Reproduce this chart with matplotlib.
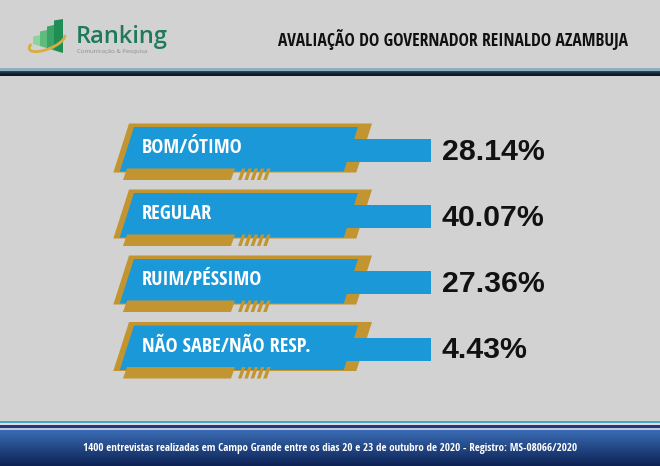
import matplotlib
matplotlib.use("Agg")
import matplotlib.pyplot as plt
from matplotlib.patches import Polygon, Rectangle, Arc
import numpy as np

# data
categories = ["BOM/ÓTIMO", "REGULAR", "RUIM/PÉSSIMO", "NÃO SABE/NÃO RESP."]
values = [28.14, 40.07, 27.36, 4.43]
title = "AVALIAÇÃO DO GOVERNADOR REINALDO AZAMBUJA"
footer = ("1400 entrevistas realizadas em Campo Grande entre os dias 20 e 23 "
          "de outubro de 2020 - Registro: MS-08066/2020")

BG = "#d2d2d2"
BLUE = "#1a98d8"
GOLD = "#c39530"
COND = dict(family=["Open Sans Condensed", "DejaVu Sans"], fontweight="bold")

fig = plt.figure(figsize=(6.6, 4.66), dpi=100)
fig.patch.set_facecolor(BG)
ax = fig.add_axes([0, 0, 1, 1])
ax.set_xlim(0, 660)
ax.set_ylim(466, 0)
ax.axis("off")


def poly(pts, color, z=2):
    ax.add_patch(Polygon(pts, closed=True, facecolor=color, edgecolor="none", zorder=z))


# header separator
ax.add_patch(Rectangle((0, 68.3), 660, 2.8, facecolor="#8eafbf", edgecolor="none"))
for i, col in enumerate(["#2a4656", "#1d3343", "#142636", "#0e1c2a", "#0d1824"]):
    ax.add_patch(Rectangle((0, 71 + i * 1.0), 660, 1.05, facecolor=col, edgecolor="none"))

# logo
bar_x = [33, 40, 47, 54]
bar_w = [7, 7, 7, 9]
bar_top = [35, 30, 25, 19]
greens = ["#8ed39b", "#5dbb7b", "#3aa466", "#1f8d56"]
for bx, bw, bt, g in zip(bar_x, bar_w, bar_top, greens):
    y0 = 44 + (bx - 33) * 0.3
    y1 = 44 + (bx + bw - 33) * 0.3
    poly([(bx, bt + 1.5), (bx + bw, bt), (bx + bw, y1), (bx, y0)], g, 3)
ax.add_patch(Arc((47, 42), 38, 14, angle=-22, theta1=0, theta2=195,
                 color="#d9ad3f", lw=2.0, zorder=4))
ax.text(76, 43, "Ranking", color="#1f7a5c", fontsize=17, family="Open Sans",
        fontweight="semibold", va="baseline", ha="left")
ax.text(77, 51, "Comunicação & Pesquisa", color="#8a8f8c", fontsize=4.3,
        family="Open Sans", va="center", ha="left")

# title
ax.text(278, 40, title, color="#111111", fontsize=12.6, va="center", ha="left", **COND)

# rows
row_c = [150.5, 216.5, 282.5, 349]
sl = 0.32
for lab, val, c in zip(categories, values, row_c):
    # gold back plate
    t, b = c - 27, c + 22
    poly([(129, t), (372, t), (372 - sl * (b - t), b), (129 - sl * (b - t), b)], GOLD, 2)
    # blue plate
    t, b = c - 23.5, c + 21
    poly([(134, t), (358, t), (358 - sl * (b - t), b), (134 - sl * (b - t), b)], BLUE, 3)
    # thin bar
    ax.add_patch(Rectangle((330, c - 11.5), 431 - 330, 23, facecolor=BLUE,
                           edgecolor="none", zorder=3))
    # gold under stripe
    t, b = c + 18, c + 29.5
    poly([(127, t), (235, t), (231, b), (123, b)], GOLD, 4)
    for k in range(5):
        x0 = 238 + k * 6.3
        poly([(x0 + 4, t), (x0 + 7.5, t), (x0 + 3.5, b), (x0, b)], GOLD, 4)
    ax.text(142, c - 2.5, lab, color="white", fontsize=14.6, va="center",
            ha="left", zorder=5, **COND)
    ax.text(442, c + 1.5, "%.2f%%" % val, color="#111111", fontsize=21.8,
            family="Liberation Sans", fontweight="bold", va="center", ha="left")

# footer bands
ax.add_patch(Rectangle((0, 421), 660, 2.4, facecolor="#48a5bf", edgecolor="none"))
ax.add_patch(Rectangle((0, 423.4), 660, 1.8, facecolor="#d9dce6", edgecolor="none"))
ax.add_patch(Rectangle((0, 425.2), 660, 2.3, facecolor="#2b3479", edgecolor="none"))
ax.add_patch(Rectangle((0, 427.5), 660, 2.8, facecolor="#bcc5e8", edgecolor="none"))
grad = np.linspace(0, 1, 64).reshape(-1, 1)
top_col = np.array([0x3a, 0x6c, 0xb4]) / 255
bot_col = np.array([0x0d, 0x22, 0x55]) / 255
img = top_col + (bot_col - top_col) * grad
ax.imshow(img[:, None, :].repeat(2, axis=1), extent=(0, 660, 466, 430.3),
          aspect="auto", zorder=1, interpolation="bilinear")
ax.set_xlim(0, 660)
ax.set_ylim(466, 0)
ax.text(330, 448, footer, color="white", fontsize=7.95, va="center",
        ha="center", zorder=5, **COND)

fig.savefig("out.png", dpi=100, facecolor=BG)
